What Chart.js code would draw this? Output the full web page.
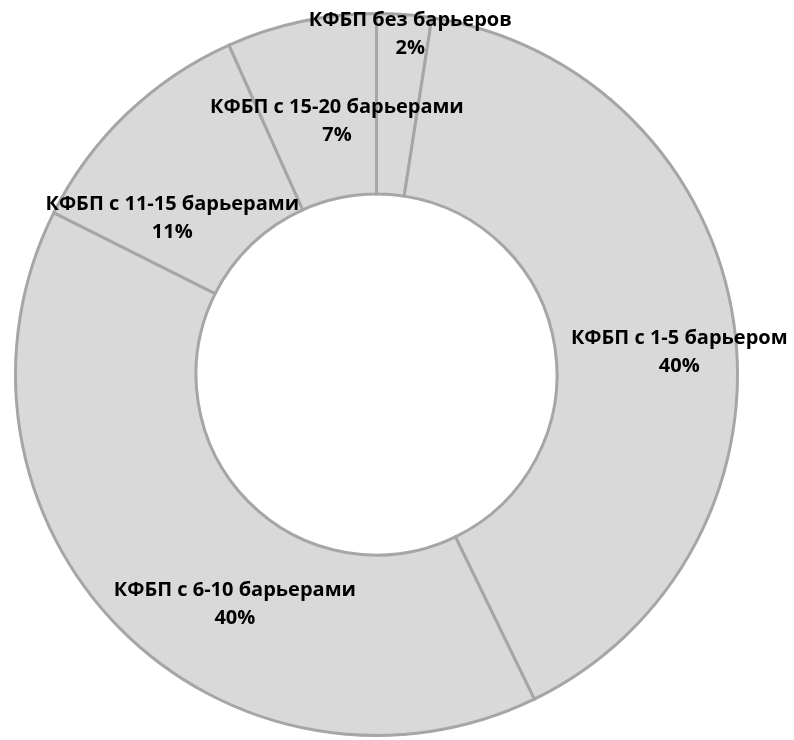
<!DOCTYPE html>
<html>
<head>
<meta charset="utf-8">
<script src="https://cdn.jsdelivr.net/npm/chart.js@4.4.1/dist/chart.umd.min.js"></script>
<style>
  html, body { margin: 0; padding: 0; background: #ffffff; }
  #wrap { width: 794px; height: 740px; }
</style>
</head>
<body>
<div id="wrap"><canvas id="chart" width="794" height="740"></canvas></div>
<script>
// Распределение КФБП по числу барьеров (доли, %)
const categories = [
  'КФБП без барьеров',
  'КФБП с 1-5 барьером',
  'КФБП с 6-10 барьерами',
  'КФБП с 11-15 барьерами',
  'КФБП с 15-20 барьерами'
];
const shares = [2.45, 40.35, 39.6, 10.9, 6.7];

// Сдвиг подписи относительно середины сектора (px)
const labelShift = [
  { dx: 13, dy: -70 },
  { dx: 35, dy: 18 },
  { dx: 51, dy: 40 },
  { dx: -17, dy: 39 },
  { dx: 17, dy: 12 }
];

const sliceLabels = {
  id: 'sliceLabels',
  afterDatasetsDraw(chart) {
    const ctx = chart.ctx;
    const meta = chart.getDatasetMeta(0);
    const total = shares.reduce((a, b) => a + b, 0);
    ctx.save();
    ctx.font = 'bold 20px "Open Sans", "Noto Sans", sans-serif';
    ctx.fillStyle = '#000000';
    ctx.textAlign = 'center';
    ctx.textBaseline = 'middle';
    meta.data.forEach((arc, i) => {
      const p = arc.getProps(['x', 'y', 'startAngle', 'endAngle', 'innerRadius', 'outerRadius'], true);
      const mid = (p.startAngle + p.endAngle) / 2;
      const r = (p.innerRadius + p.outerRadius) / 2;
      const cx = p.x + Math.cos(mid) * r + labelShift[i].dx;
      const cy = p.y + Math.sin(mid) * r + labelShift[i].dy;
      const pct = Math.round(shares[i] / total * 100) + '%';
      ctx.fillText(categories[i], cx, cy - 14);
      ctx.fillText(pct, cx, cy + 14);
    });
    ctx.restore();
  }
};

new Chart(document.getElementById('chart'), {
  type: 'doughnut',
  data: {
    labels: categories,
    datasets: [{
      data: shares,
      backgroundColor: '#d9d9d9',
      borderColor: '#a6a6a6',
      borderWidth: 3,
      hoverBorderWidth: 3,
      borderJoinStyle: 'miter'
    }]
  },
  options: {
    responsive: false,
    devicePixelRatio: 1,
    animation: false,
    cutout: '50%',
    layout: { padding: { top: 12, bottom: 3, left: 0, right: 41 } },
    plugins: {
      legend: { display: false },
      tooltip: { enabled: false }
    }
  },
  plugins: [sliceLabels]
});
</script>
</body>
</html>
